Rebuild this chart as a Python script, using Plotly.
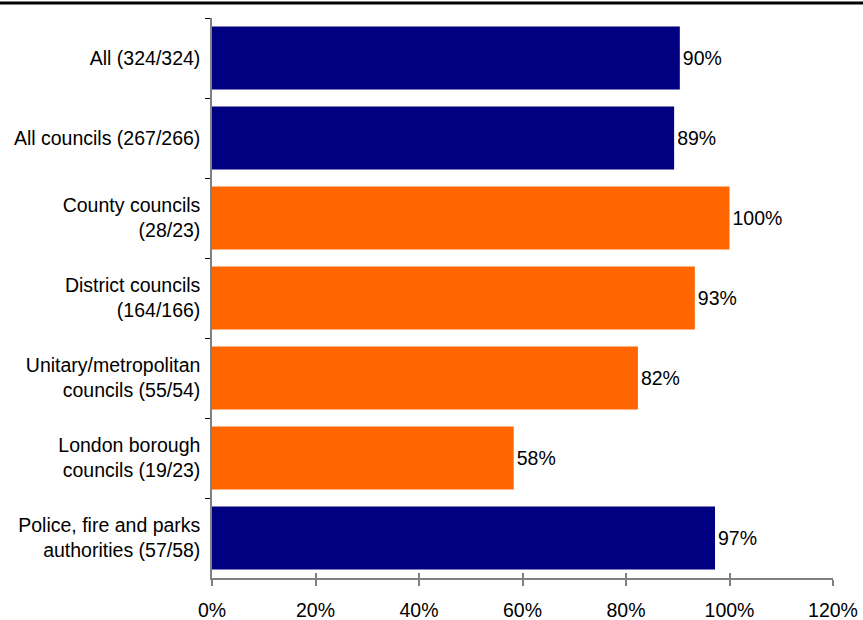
import plotly.graph_objects as go

categories = [
    "All (324/324)",
    "All councils (267/266)",
    "County councils<br>(28/23)",
    "District councils<br>(164/166)",
    "Unitary/metropolitan<br>councils (55/54)",
    "London borough<br>councils (19/23)",
    "Police, fire and parks<br>authorities (57/58)",
]
values = [0.904, 0.893, 1.0, 0.933, 0.823, 0.583, 0.972]
bar_colors = ["#000080", "#000080", "#FF6600", "#FF6600", "#FF6600", "#FF6600", "#000080"]
x_ticks = [0, 0.2, 0.4, 0.6, 0.8, 1.0, 1.2]
x_tick_labels = ["0%", "20%", "40%", "60%", "80%", "100%", "120%"]

labels = [f"{round(v * 100)}%" for v in values]

FONT = "Liberation Sans, Arial"

fig = go.Figure(
    go.Bar(
        y=categories,
        x=values,
        orientation="h",
        marker=dict(color=bar_colors, line=dict(width=0)),
        text=labels,
        textposition="outside",
        textfont=dict(family=FONT, size=19.5, color="#000000"),
        cliponaxis=False,
        width=0.79,
    )
)

fig.update_layout(
    width=863,
    height=620,
    margin=dict(l=212, r=30, t=18, b=42, autoexpand=False),
    paper_bgcolor="white",
    plot_bgcolor="white",
    showlegend=False,
    font=dict(family=FONT, size=19.5, color="#000000"),
    xaxis=dict(
        range=[0, 1.2],
        tickvals=x_ticks,
        ticktext=x_tick_labels,
        showgrid=False,
        zeroline=False,
        showline=True,
        linecolor="#808080",
        linewidth=1.5,
        ticks="outside",
        ticklen=6,
        tickcolor="#808080",
        tickwidth=1.5,
        ticklabelstandoff=8,
        automargin=False,
    ),
    xaxis2=dict(
        overlaying="x",
        side="bottom",
        anchor="y",
        range=[0, 1.2],
        tickvals=x_ticks,
        showticklabels=False,
        showgrid=False,
        zeroline=False,
        showline=False,
        ticks="inside",
        ticklen=5,
        tickcolor="#808080",
        tickwidth=1.5,
        automargin=False,
    ),
    yaxis=dict(
        autorange="reversed",
        showgrid=False,
        zeroline=False,
        showline=True,
        linecolor="#808080",
        linewidth=1.5,
        ticks="outside",
        tickson="boundaries",
        ticklen=5,
        tickcolor="#000000",
        tickwidth=1,
        ticklabelstandoff=6,
        automargin=False,
    ),
    shapes=[
        dict(type="line", xref="paper", yref="paper", x0=-0.5, x1=1.2, y0=1.0 + 15 / 560, y1=1.0 + 15 / 560,
             line=dict(color="#000000", width=3)),
    ],
)

# invisible trace to activate the overlay axis carrying the inner tick halves
fig.add_trace(go.Scatter(x=[0], y=[categories[0]], xaxis="x2", mode="markers",
                         marker=dict(opacity=0), hoverinfo="skip", showlegend=False))

fig.write_html("out.html")
